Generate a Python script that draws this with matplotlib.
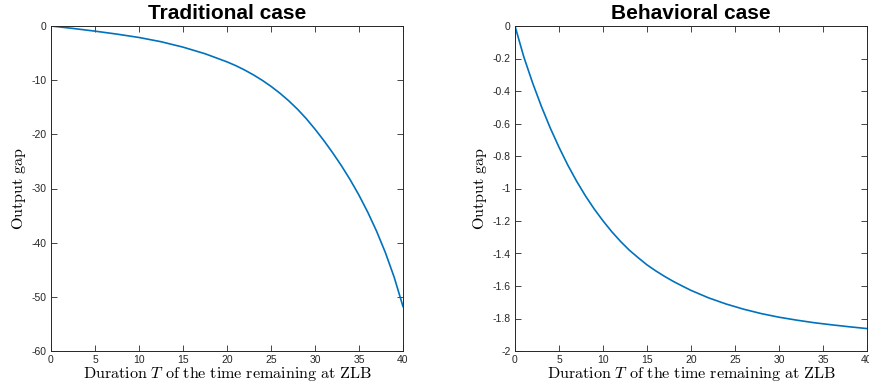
import matplotlib
matplotlib.use("Agg")
import matplotlib.pyplot as plt

# Output gap against the remaining duration T at the ZLB
trad_T = [0, 2.5, 5, 7.5, 10, 12.5, 15, 17.5, 20, 21, 22, 23, 24, 25, 26, 27, 28,
          29, 30, 31, 32, 33, 34, 35, 36, 37, 38, 39, 40]
trad_gap = [0, -0.45, -0.95, -1.5, -2.12, -2.9, -3.9, -5.12, -6.62, -7.32, -8.12,
            -9.02, -10.02, -11.14, -12.39, -13.79, -15.34, -17.09, -19.04, -21.14,
            -23.39, -25.79, -28.39, -31.24, -34.39, -37.89, -41.84, -46.39, -51.79]

behav_T = [0, 1, 2, 3, 4, 5, 6, 7, 8, 9, 10, 11, 12, 13, 14, 15, 16, 17, 18, 19,
           20, 22, 24, 26, 28, 30, 32, 34, 36, 38, 40]
behav_gap = [0, -0.19, -0.35, -0.495, -0.627, -0.746, -0.856, -0.955, -1.045,
             -1.126, -1.199, -1.266, -1.326, -1.380, -1.426, -1.470, -1.507,
             -1.541, -1.572, -1.600, -1.627, -1.673, -1.711, -1.743, -1.770,
             -1.792, -1.810, -1.826, -1.839, -1.851, -1.862]

titles = ["Traditional case", "Behavioral case"]
x_ticks = [0, 5, 10, 15, 20, 25, 30, 35, 40]
trad_yticks = [0, -10, -20, -30, -40, -50, -60]
behav_yticks = [0, -0.2, -0.4, -0.6, -0.8, -1, -1.2, -1.4, -1.6, -1.8, -2]

plt.rcParams["mathtext.fontset"] = "cm"
axis_color = "#262626"
line_color = "#0072BD"

fig = plt.figure(figsize=(8.7, 3.89), dpi=100)
ax_l = fig.add_axes([51 / 870, 1 - 351 / 389, 352 / 870, 325 / 389])
ax_r = fig.add_axes([515 / 870, 1 - 351 / 389, 352 / 870, 325 / 389])

panels = [
    (ax_l, trad_T, trad_gap, titles[0], trad_yticks, (-60, 0)),
    (ax_r, behav_T, behav_gap, titles[1], behav_yticks, (-2, 0)),
]

for ax, xs, ys, title, yticks, ylim in panels:
    ax.plot(xs, ys, color=line_color, lw=1.2, solid_joinstyle="round")
    ax.set_xlim(0, 40)
    ax.set_ylim(*ylim)
    ax.set_xticks(x_ticks)
    ax.set_yticks(yticks)
    ax.set_xticklabels([f"{t:g}" for t in x_ticks])
    ax.set_yticklabels([f"{t:g}" for t in yticks])
    ax.tick_params(axis="both", direction="in", length=4, width=0.6,
                   colors=axis_color, labelsize=7.5, top=True, right=True,
                   pad=3)
    for lab in ax.get_xticklabels() + ax.get_yticklabels():
        lab.set_family("Liberation Sans")
    for sp in ax.spines.values():
        sp.set_color(axis_color)
        sp.set_linewidth(0.7)
    ax.set_title(title, fontsize=15, fontweight="bold",
                 family="Liberation Sans", pad=5)
    ax.set_xlabel(r"$\mathrm{Duration}\ T\ \mathrm{of\ the\ time\ remaining\ at\ ZLB}$",
                  fontsize=11.6, labelpad=0)
    ax.set_ylabel(r"$\mathrm{Output\ gap}$", fontsize=11.6, labelpad=3)

fig.savefig("out.png", dpi=100)
